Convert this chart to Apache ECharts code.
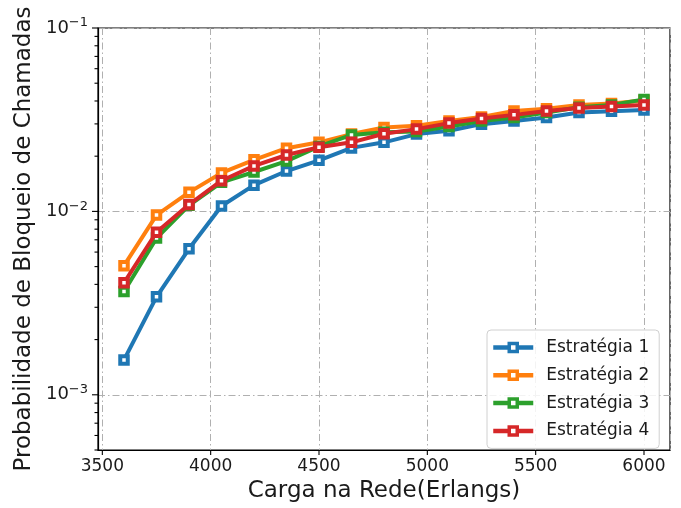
<!DOCTYPE html>
<html>
<head>
<meta charset="utf-8">
<script src="https://cdn.jsdelivr.net/npm/echarts@6/dist/echarts.min.js"></script>
<style>
html,body{margin:0;padding:0;background:#fff;}
#chart{width:681px;height:508px;}
</style>
</head>
<body>
<div id="chart"></div>
<script>
// ---- data ----
const loads = [3600, 3750, 3900, 4050, 4200, 4350, 4500, 4650, 4800, 4950, 5100, 5250, 5400, 5550, 5700, 5850, 6000];
const strategy1 = [1.55e-3, 3.42e-3, 6.25e-3, 1.07e-2, 1.39e-2, 1.66e-2, 1.90e-2, 2.22e-2, 2.38e-2, 2.64e-2, 2.75e-2, 2.99e-2, 3.11e-2, 3.25e-2, 3.46e-2, 3.52e-2, 3.57e-2];
const strategy2 = [5.06e-3, 9.55e-3, 1.27e-2, 1.62e-2, 1.91e-2, 2.21e-2, 2.38e-2, 2.64e-2, 2.87e-2, 2.93e-2, 3.11e-2, 3.27e-2, 3.53e-2, 3.63e-2, 3.80e-2, 3.88e-2, 4.02e-2];
const strategy3 = [3.66e-3, 7.15e-3, 1.08e-2, 1.44e-2, 1.64e-2, 1.88e-2, 2.26e-2, 2.61e-2, 2.70e-2, 2.73e-2, 2.90e-2, 3.11e-2, 3.25e-2, 3.46e-2, 3.70e-2, 3.80e-2, 4.08e-2];
const strategy4 = [4.08e-3, 7.70e-3, 1.09e-2, 1.47e-2, 1.77e-2, 2.03e-2, 2.24e-2, 2.38e-2, 2.65e-2, 2.81e-2, 3.03e-2, 3.21e-2, 3.36e-2, 3.53e-2, 3.66e-2, 3.73e-2, 3.80e-2];
const seriesNames = ['Estratégia 1', 'Estratégia 2', 'Estratégia 3', 'Estratégia 4'];
const xTickLabels = [3500, 4000, 4500, 5000, 5500, 6000];
const yMajorTicks = [1e-3, 1e-2, 1e-1];
const yMinorTicks = [5e-4, 6e-4, 7e-4, 8e-4, 9e-4, 2e-3, 3e-3, 4e-3, 5e-3, 6e-3, 7e-3, 8e-3, 9e-3, 2e-2, 3e-2, 4e-2, 5e-2, 6e-2, 7e-2, 8e-2, 9e-2];

// ---- styling ----
const colors = ['#1f77b4', '#ff7f0e', '#2ca02c', '#d62728'];
const allSeries = [strategy1, strategy2, strategy3, strategy4];
const xMin = 3480, xMax = 6120;
const yMin = 5e-4, yMax = 0.1;
const FONT = 'DejaVu Sans';
const gridDash = [7, 3, 1.5, 3];

const chart = echarts.init(document.getElementById('chart'), null, {renderer: 'canvas'});

const lineSeries = allSeries.map((vals, i) => ({
  name: seriesNames[i],
  type: 'line',
  data: loads.map((x, j) => [x, vals[j]]),
  symbol: 'rect',
  symbolSize: 7.5,
  showAllSymbol: true,
  lineStyle: {width: 4, color: colors[i]},
  itemStyle: {color: '#ffffff', borderColor: colors[i], borderWidth: 4},
  emphasis: {disabled: true},
  animation: false,
  z: 3 + i
}));

function tickSeries(points, dx, dy) {
  return {
    type: 'custom',
    silent: true,
    animation: false,
    clip: false,
    data: points,
    renderItem: function (params, api) {
      const p = api.coord([api.value(0), api.value(1)]);
      return {
        type: 'line',
        shape: {x1: p[0], y1: p[1], x2: p[0] + dx, y2: p[1] + dy},
        style: {stroke: '#000', lineWidth: 1.1}
      };
    },
    z: 10
  };
}

const option = {
  backgroundColor: '#ffffff',
  animation: false,
  textStyle: {fontFamily: FONT},
  grid: {
    left: 98, right: 11, top: 28, bottom: 54,
    show: true, borderColor: '#000', borderWidth: 1.2, backgroundColor: 'transparent'
  },
  legend: {
    data: seriesNames.map((n, i) => ({name: n, itemStyle: {color: '#ffffff', borderColor: colors[i], borderWidth: 3.5}, lineStyle: {color: colors[i], width: 4.5}})),
    orient: 'vertical',
    left: 487, top: 330,
    itemWidth: 40, itemHeight: 10,
    itemGap: 10.8,
    padding: [9, 10, 9, 4],
    backgroundColor: 'rgba(255,255,255,0.85)',
    borderColor: '#d0d0d0', borderWidth: 1, borderRadius: 4,
    textStyle: {fontFamily: FONT, fontSize: 17, color: '#1a1a1a', padding: [0, 0, 0, 8]},
    selectedMode: false,
    z: 50
  },
  xAxis: {
    type: 'value',
    min: xMin, max: xMax,
    name: 'Carga na Rede(Erlangs)',
    nameLocation: 'middle',
    nameGap: 30,
    nameTextStyle: {fontFamily: FONT, fontSize: 23, color: '#1a1a1a'},
    axisLine: {show: true, onZero: false, lineStyle: {color: '#000', width: 1.2}},
    axisTick: {show: false},
    axisLabel: {
      fontFamily: FONT, fontSize: 17, color: '#1a1a1a', margin: 8,
      formatter: v => xTickLabels.indexOf(v) >= 0 ? String(v) : ''
    },
    splitLine: {show: true, lineStyle: {color: '#b0b0b0', width: 1, type: gridDash}}
  },
  yAxis: {
    type: 'log',
    logBase: 10,
    min: yMin, max: yMax,
    name: 'Probabilidade de Bloqueio de Chamadas',
    nameLocation: 'middle',
    nameGap: 58,
    nameTextStyle: {fontFamily: FONT, fontSize: 23, color: '#1a1a1a'},
    axisLine: {show: true, lineStyle: {color: '#000', width: 1.2}},
    axisTick: {show: false},
    axisLabel: {
      fontFamily: FONT, color: '#1a1a1a', margin: 10,
      formatter: function (v) {
        const l = Math.log10(v);
        const n = Math.round(l);
        if (Math.abs(l - n) > 1e-6) return '';
        return '{b|10}{s|' + String(n).replace('-', '\u2212') + '}';
      },
      rich: {
        b: {fontFamily: FONT, fontSize: 18, color: '#1a1a1a'},
        s: {fontFamily: FONT, fontSize: 13, color: '#1a1a1a', padding: [0, 0, 10, 0]}
      }
    },
    splitLine: {show: true, lineStyle: {color: '#b0b0b0', width: 1, type: gridDash}}
  },
  series: lineSeries.concat([
    tickSeries(xTickLabels.map(x => [x, yMin]), 0, 5),
    tickSeries(yMajorTicks.map(v => [xMin, v]), -6, 0),
    tickSeries(yMinorTicks.map(v => [xMin, v]), -3.5, 0)
  ])
};

chart.setOption(option);
</script>
</body>
</html>
